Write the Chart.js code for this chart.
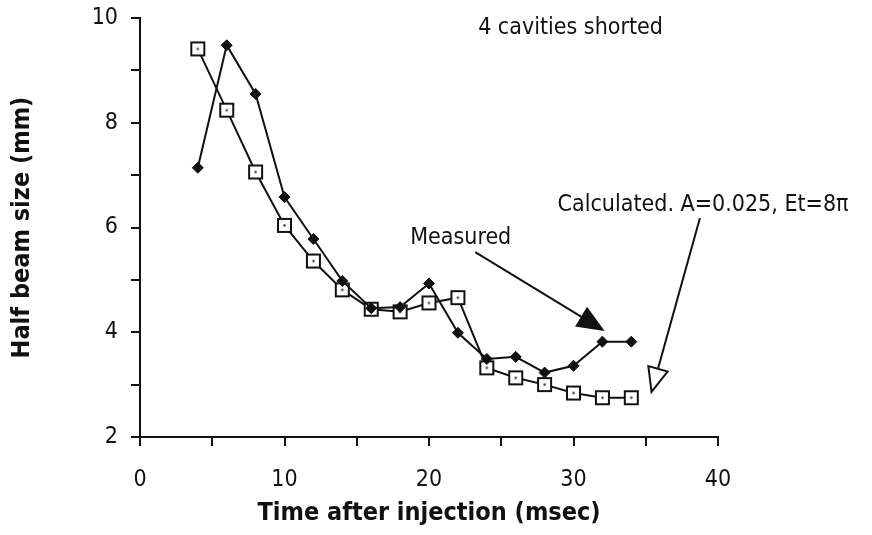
<!DOCTYPE html>
<html>
<head>
<meta charset="utf-8">
<script src="https://cdn.jsdelivr.net/npm/chart.js@4/dist/chart.umd.min.js"></script>
<style>
  html, body { margin: 0; padding: 0; background: #fff; }
  #wrap { width: 872px; height: 535px; }
</style>
</head>
<body>
<div id="wrap"><canvas id="beamChart" width="872" height="535"></canvas></div>
<script>
const times = [4, 6, 8, 10, 12, 14, 16, 18, 20, 22, 24, 26, 28, 30, 32, 34];
const measured = [7.14, 9.48, 8.55, 6.58, 5.78, 4.98, 4.46, 4.48, 4.93, 3.99, 3.49, 3.53, 3.23, 3.36, 3.82, 3.82];
const calculated = [9.41, 8.24, 7.06, 6.04, 5.36, 4.81, 4.44, 4.39, 4.56, 4.66, 3.32, 3.13, 3.0, 2.84, 2.75, 2.75];
const xTickLabels = ["0", "10", "20", "30", "40"];
const yTickLabels = ["2", "4", "6", "8", "10"];

const FONT = "'DejaVu Sans Condensed', 'DejaVu Sans', sans-serif";

// square marker with a little dot in the middle
function squareMarker() {
  const c = document.createElement("canvas");
  c.width = 17;
  c.height = 17;
  const g = c.getContext("2d");
  g.fillStyle = "#fff";
  g.fillRect(1, 1, 15, 15);
  g.strokeStyle = "#111";
  g.lineWidth = 2;
  g.strokeRect(2, 2, 13, 13);
  g.fillStyle = "#111";
  g.fillRect(7.5, 7.5, 2, 2);
  return c;
}

const notes = [
  { text: "4 cavities shorted", x: 23.4, y: 9.81 },
  { text: "Measured", x: 18.7, y: 5.8 },
  { text: "Calculated. A=0.025, Et=8\u03c0", x: 28.9, y: 6.43 }
];
const arrows = [
  { from: [23.2, 5.53], to: [32.0, 4.05], filled: true },
  { from: [38.75, 6.18], to: [35.4, 2.86], filled: false }
];

const annotate = {
  id: "annotate",
  afterDraw(chart) {
    const { ctx, scales } = chart;
    const xs = scales.x, ys = scales.y;
    ctx.save();
    ctx.fillStyle = "#111";
    ctx.font = "23px " + FONT;
    ctx.textBaseline = "middle";
    notes.forEach((n) => {
      ctx.fillText(n.text, xs.getPixelForValue(n.x), ys.getPixelForValue(n.y));
    });
    arrows.forEach((a) => {
      const x1 = xs.getPixelForValue(a.from[0]), y1 = ys.getPixelForValue(a.from[1]);
      const x2 = xs.getPixelForValue(a.to[0]), y2 = ys.getPixelForValue(a.to[1]);
      const ang = Math.atan2(y2 - y1, x2 - x1);
      const len = 24, half = 10;
      const bx = x2 - len * Math.cos(ang), by = y2 - len * Math.sin(ang);
      ctx.strokeStyle = "#111";
      ctx.lineWidth = 2;
      ctx.beginPath();
      ctx.moveTo(x1, y1);
      ctx.lineTo(bx, by);
      ctx.stroke();
      ctx.beginPath();
      ctx.moveTo(x2, y2);
      ctx.lineTo(bx + half * Math.sin(ang), by - half * Math.cos(ang));
      ctx.lineTo(bx - half * Math.sin(ang), by + half * Math.cos(ang));
      ctx.closePath();
      if (a.filled) {
        ctx.fill();
      } else {
        ctx.fillStyle = "#fff";
        ctx.fill();
        ctx.fillStyle = "#111";
      }
      ctx.stroke();
    });
    ctx.restore();
  }
};

new Chart(document.getElementById("beamChart"), {
  type: "line",
  data: {
    datasets: [
      {
        label: "Measured",
        data: times.map((t, i) => ({ x: t, y: measured[i] })),
        borderColor: "#111",
        backgroundColor: "#111",
        borderWidth: 2,
        pointStyle: "rectRot",
        pointRadius: 5.5,
        pointBorderWidth: 1,
        tension: 0
      },
      {
        label: "Calculated",
        data: times.map((t, i) => ({ x: t, y: calculated[i] })),
        borderColor: "#111",
        backgroundColor: "#fff",
        borderWidth: 2,
        pointStyle: squareMarker(),
        tension: 0
      }
    ]
  },
  options: {
    responsive: false,
    animation: false,
    layout: { padding: { top: 18, right: 154, left: 0, bottom: 0 } },
    plugins: { legend: { display: false }, tooltip: { enabled: false } },
    scales: {
      x: {
        type: "linear",
        min: 0,
        max: 40,
        afterFit: (s) => { s.height = 98; s.paddingLeft = 0; s.paddingRight = 0; },
        border: { color: "#111", width: 2 },
        grid: { drawOnChartArea: false, color: "#111", lineWidth: 2, tickLength: 9 },
        ticks: {
          stepSize: 5,
          color: "#111",
          font: { family: FONT, size: 23 },
          padding: 20,
          callback: (v) => (xTickLabels.includes(String(v)) ? String(v) : "")
        },
        title: {
          display: true,
          text: "Time after injection (msec)",
          color: "#111",
          font: { family: FONT, size: 25, weight: "bold" },
          padding: { top: 0, bottom: 7 }
        }
      },
      y: {
        type: "linear",
        min: 2,
        max: 10,
        afterFit: (s) => { s.width = 140; s.paddingTop = 0; s.paddingBottom = 0; },
        border: { color: "#111", width: 2 },
        grid: { drawOnChartArea: false, color: "#111", lineWidth: 2, tickLength: 9 },
        ticks: {
          stepSize: 1,
          color: "#111",
          font: { family: FONT, size: 23 },
          padding: 13,
          callback: (v) => (yTickLabels.includes(String(v)) ? String(v) : "")
        },
        title: {
          display: true,
          text: "Half beam size (mm)",
          color: "#111",
          font: { family: FONT, size: 25, weight: "bold" },
          padding: { top: 7 }
        }
      }
    }
  },
  plugins: [annotate]
});
</script>
</body>
</html>
